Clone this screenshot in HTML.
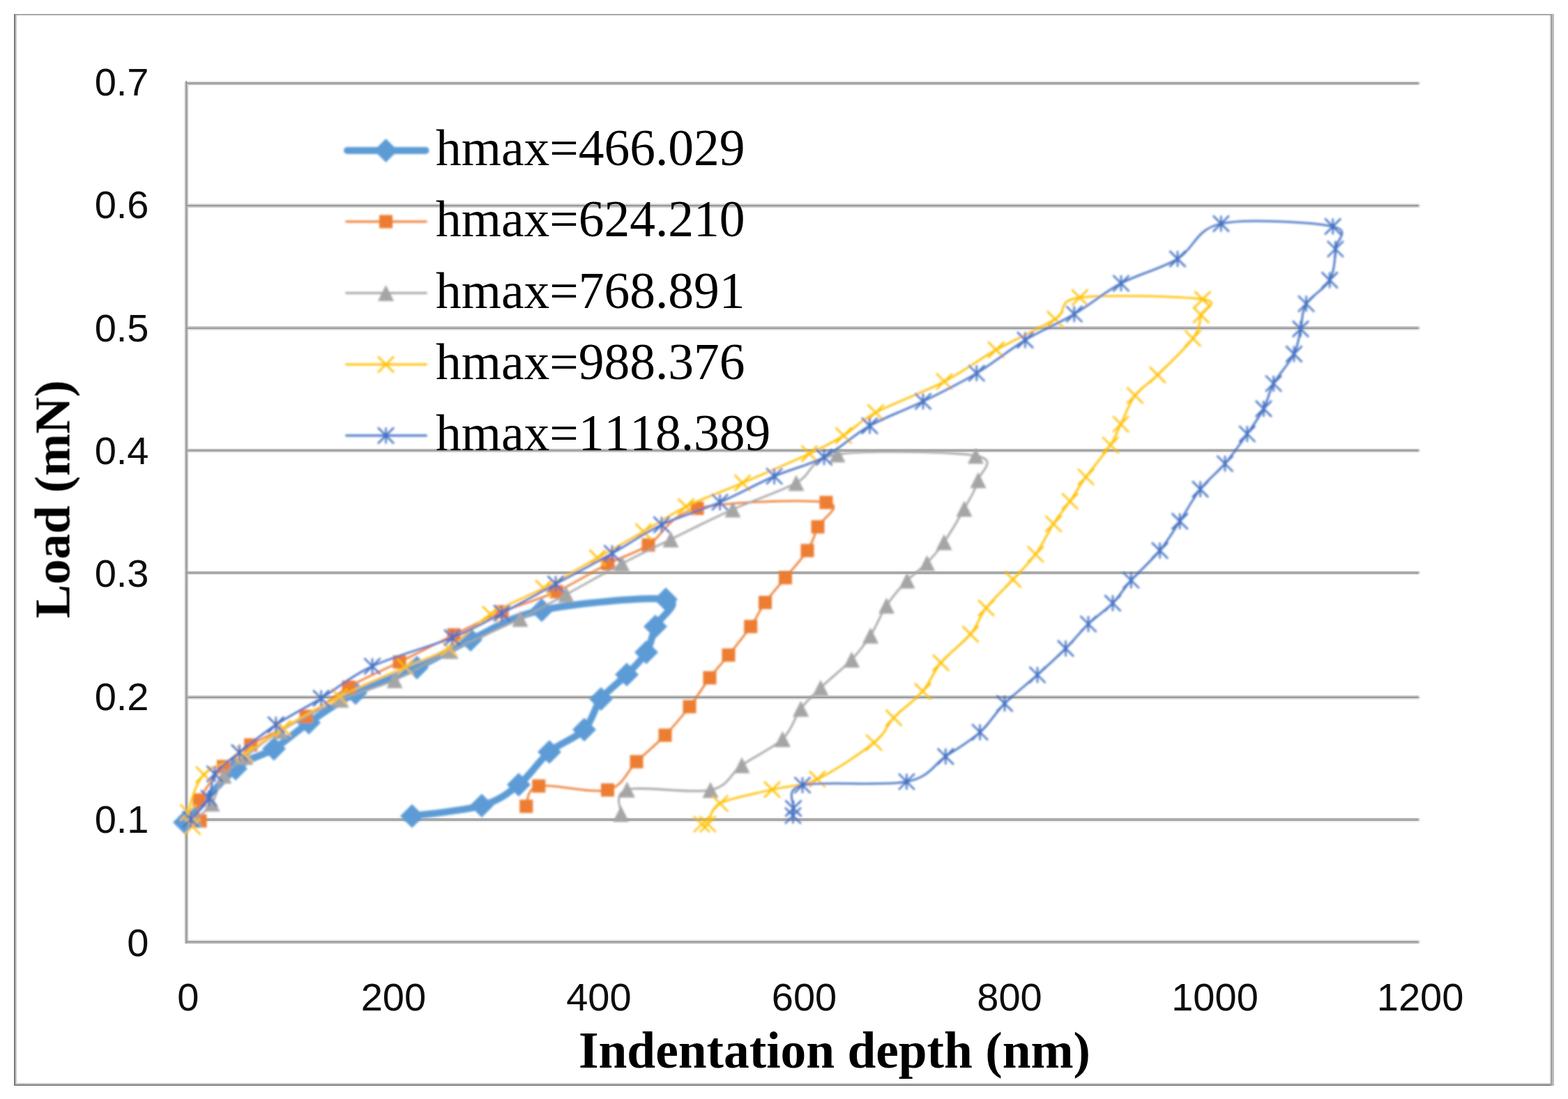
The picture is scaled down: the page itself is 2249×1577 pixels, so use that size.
<!DOCTYPE html>
<html lang="en">
<head>
<meta charset="utf-8">
<title>Load vs indentation depth</title>
<style>
html,body{margin:0;padding:0;background:#fff;}
body{width:2249px;height:1577px;overflow:hidden;}
svg{display:block;}
.tick{font-family:"Liberation Sans",sans-serif;font-size:56px;fill:#0a0a0a;}
.leg{font-family:"Liberation Serif",serif;font-size:73.5px;fill:#000;font-kerning:none;}
.ttl{font-family:"Liberation Serif",serif;font-size:73.4px;font-weight:bold;fill:#000;font-kerning:none;}
.ttly{font-size:72.8px;}
</style>
</head>
<body>
<svg width="2249" height="1577" viewBox="0 0 2249 1577">
<rect x="0" y="0" width="2249" height="1577" fill="#ffffff"/>
<g shape-rendering="crispEdges">
<rect x="20" y="20" width="2208" height="2" fill="#a8a8a8"/>
<rect x="20" y="1554" width="2208" height="2" fill="#cecece"/>
<rect x="20" y="1556" width="2208" height="2" fill="#7e7e7e"/>
<rect x="20" y="20" width="2" height="1538" fill="#7a7a7a"/>
<rect x="22" y="22" width="2" height="1532" fill="#c8c8c8"/>
<rect x="2222" y="22" width="2" height="1532" fill="#f0f0f0"/>
<rect x="2224" y="20" width="2" height="1538" fill="#a0a0a0"/>
<rect x="2226" y="20" width="3" height="1538" fill="#bbbbbb"/>
</g>
<defs>
<filter id="soft" filterUnits="userSpaceOnUse" x="0" y="0" width="2249" height="1577"><feGaussianBlur stdDeviation="1.6"/></filter>
<filter id="softt" filterUnits="userSpaceOnUse" x="0" y="0" width="2249" height="1577"><feGaussianBlur stdDeviation="0.7"/></filter>
<g id="m0"><path d="M0 -17 L17 0 L0 17 L-17 0Z" fill="#5b9bd5"/></g>
<g id="m1"><rect x="-9.5" y="-9.5" width="19" height="19" fill="#ed7d31"/></g>
<g id="m2"><path d="M0 -11.5 L11.5 11.5 L-11.5 11.5Z" fill="#a5a5a5"/></g>
<g id="m3"><path d="M-11.5 -11.5 L11.5 11.5 M-11.5 11.5 L11.5 -11.5" stroke="#ffc000" stroke-width="2.5" fill="none"/></g>
<g id="m4"><path d="M-11.5 -11.5 L11.5 11.5 M-11.5 11.5 L11.5 -11.5 M0 -11.5 L0 11.5" stroke="#4472c4" stroke-width="2.5" fill="none"/></g>
</defs>
<g shape-rendering="crispEdges">
<rect x="266" y="116" width="1768" height="2" fill="#eaeaea"/><rect x="2034" y="116" width="2" height="2" fill="#f2f2f2"/><rect x="2036" y="116" width="2" height="2" fill="#fbfbfb"/>
<rect x="266" y="118" width="1768" height="2" fill="#9a9a9a"/><rect x="2034" y="118" width="2" height="2" fill="#c2c2c2"/><rect x="2036" y="118" width="2" height="2" fill="#efefef"/>
<rect x="266" y="120" width="1768" height="2" fill="#bbbbbb"/><rect x="2034" y="120" width="2" height="2" fill="#d6d6d6"/><rect x="2036" y="120" width="2" height="2" fill="#f4f4f4"/>
<rect x="266" y="292" width="1768" height="2" fill="#dadada"/><rect x="2034" y="292" width="2" height="2" fill="#e8e8e8"/><rect x="2036" y="292" width="2" height="2" fill="#f9f9f9"/>
<rect x="266" y="294" width="1768" height="2" fill="#969696"/><rect x="2034" y="294" width="2" height="2" fill="#c0c0c0"/><rect x="2036" y="294" width="2" height="2" fill="#efefef"/>
<rect x="266" y="296" width="1768" height="2" fill="#cccccc"/><rect x="2034" y="296" width="2" height="2" fill="#e0e0e0"/><rect x="2036" y="296" width="2" height="2" fill="#f7f7f7"/>
<rect x="266" y="468" width="1768" height="2" fill="#c9c9c9"/><rect x="2034" y="468" width="2" height="2" fill="#dedede"/><rect x="2036" y="468" width="2" height="2" fill="#f6f6f6"/>
<rect x="266" y="470" width="1768" height="2" fill="#9a9a9a"/><rect x="2034" y="470" width="2" height="2" fill="#c2c2c2"/><rect x="2036" y="470" width="2" height="2" fill="#efefef"/>
<rect x="266" y="472" width="1768" height="2" fill="#dddddd"/><rect x="2034" y="472" width="2" height="2" fill="#eaeaea"/><rect x="2036" y="472" width="2" height="2" fill="#f9f9f9"/>
<rect x="266" y="644" width="1768" height="2" fill="#b8b8b8"/><rect x="2034" y="644" width="2" height="2" fill="#d4d4d4"/><rect x="2036" y="644" width="2" height="2" fill="#f4f4f4"/>
<rect x="266" y="646" width="1768" height="2" fill="#a0a0a0"/><rect x="2034" y="646" width="2" height="2" fill="#c6c6c6"/><rect x="2036" y="646" width="2" height="2" fill="#f0f0f0"/>
<rect x="266" y="648" width="1768" height="2" fill="#eaeaea"/><rect x="2034" y="648" width="2" height="2" fill="#f2f2f2"/><rect x="2036" y="648" width="2" height="2" fill="#fbfbfb"/>
<rect x="266" y="818" width="1768" height="2" fill="#f6f6f6"/><rect x="2034" y="818" width="2" height="2" fill="#f9f9f9"/><rect x="2036" y="818" width="2" height="2" fill="#fdfdfd"/>
<rect x="266" y="820" width="1768" height="2" fill="#a6a6a6"/><rect x="2034" y="820" width="2" height="2" fill="#c9c9c9"/><rect x="2036" y="820" width="2" height="2" fill="#f1f1f1"/>
<rect x="266" y="822" width="1768" height="2" fill="#acacac"/><rect x="2034" y="822" width="2" height="2" fill="#cdcdcd"/><rect x="2036" y="822" width="2" height="2" fill="#f2f2f2"/>
<rect x="266" y="824" width="1768" height="2" fill="#fafafa"/><rect x="2034" y="824" width="2" height="2" fill="#fcfcfc"/><rect x="2036" y="824" width="2" height="2" fill="#fefefe"/>
<rect x="266" y="998" width="1768" height="2" fill="#bfbfbf"/><rect x="2034" y="998" width="2" height="2" fill="#d8d8d8"/><rect x="2036" y="998" width="2" height="2" fill="#f5f5f5"/>
<rect x="266" y="1000" width="1768" height="2" fill="#9c9c9c"/><rect x="2034" y="1000" width="2" height="2" fill="#c3c3c3"/><rect x="2036" y="1000" width="2" height="2" fill="#f0f0f0"/>
<rect x="266" y="1002" width="1768" height="2" fill="#e5e5e5"/><rect x="2034" y="1002" width="2" height="2" fill="#efefef"/><rect x="2036" y="1002" width="2" height="2" fill="#fbfbfb"/>
<rect x="266" y="1172" width="1768" height="2" fill="#fafafa"/><rect x="2034" y="1172" width="2" height="2" fill="#fcfcfc"/><rect x="2036" y="1172" width="2" height="2" fill="#fefefe"/>
<rect x="266" y="1174" width="1768" height="2" fill="#aeaeae"/><rect x="2034" y="1174" width="2" height="2" fill="#cecece"/><rect x="2036" y="1174" width="2" height="2" fill="#f2f2f2"/>
<rect x="266" y="1176" width="1768" height="2" fill="#a5a5a5"/><rect x="2034" y="1176" width="2" height="2" fill="#c9c9c9"/><rect x="2036" y="1176" width="2" height="2" fill="#f1f1f1"/>
<rect x="266" y="1178" width="1768" height="2" fill="#f0f0f0"/><rect x="2034" y="1178" width="2" height="2" fill="#f6f6f6"/><rect x="2036" y="1178" width="2" height="2" fill="#fcfcfc"/>
<rect x="266" y="1348" width="1768" height="2" fill="#eeeeee"/><rect x="2034" y="1348" width="2" height="2" fill="#f4f4f4"/><rect x="2036" y="1348" width="2" height="2" fill="#fcfcfc"/>
<rect x="266" y="1350" width="1768" height="2" fill="#a0a0a0"/><rect x="2034" y="1350" width="2" height="2" fill="#c6c6c6"/><rect x="2036" y="1350" width="2" height="2" fill="#f0f0f0"/>
<rect x="266" y="1352" width="1768" height="2" fill="#b4b4b4"/><rect x="2034" y="1352" width="2" height="2" fill="#d2d2d2"/><rect x="2036" y="1352" width="2" height="2" fill="#f3f3f3"/>
<rect x="264" y="118" width="2" height="1236" fill="#e2e2e2"/>
<rect x="266" y="116" width="2" height="1238" fill="#999999"/>
<rect x="268" y="118" width="2" height="1234" fill="#c2c2c2" style="mix-blend-mode:darken"/>
</g>
<g filter="url(#softt)">
<g class="tick" text-anchor="end">
<text x="213.5" y="136.7">0.7</text>
<text x="213.5" y="313.1">0.6</text>
<text x="213.5" y="489.5">0.5</text>
<text x="213.5" y="665.9">0.4</text>
<text x="213.5" y="842.3">0.3</text>
<text x="213.5" y="1018.7">0.2</text>
<text x="213.5" y="1195.1">0.1</text>
<text x="213.5" y="1371.5">0</text>
</g>
<g class="tick" text-anchor="middle">
<text x="269.8" y="1449.6">0</text>
<text x="564.4" y="1449.6">200</text>
<text x="858.9" y="1449.6">400</text>
<text x="1153.5" y="1449.6">600</text>
<text x="1448" y="1449.6">800</text>
<text x="1742.5" y="1449.6">1000</text>
<text x="2037.1" y="1449.6">1200</text>
</g>
<text class="ttl" x="1197" y="1532" text-anchor="middle">Indentation depth (nm)</text>
<text class="ttl ttly" transform="translate(99.5 716.5) rotate(-90)" text-anchor="middle">Load (mN)</text>
</g>
<g filter="url(#soft)">
<g>
<path d="M265 1180C277.2 1167.2 316.7 1120.6 338 1103C359.3 1085.4 375.5 1085.5 393 1074.5C410.5 1063.5 423.5 1050.3 443 1037C462.5 1023.7 484.2 1007.7 510 994.5C535.8 981.3 570.5 970.8 598 958C625.5 945.2 645.2 931.8 675 918C704.8 904.2 730.3 885.2 777 875.5C823.7 865.8 927.8 856.1 955 860C982.2 863.9 944.7 886.3 940 899C935.3 911.7 933.8 924.5 927 936C920.2 947.5 909.8 956.8 899 968C888.2 979.2 872.2 989.8 862 1003C851.8 1016.2 850.3 1034.3 838 1047C825.7 1059.7 803.7 1065.8 788 1079C772.3 1092.2 760.2 1113.2 744 1126C727.8 1138.8 716.5 1148.5 691 1156C665.5 1163.5 607.7 1168.5 591 1171" fill="none" stroke="#5b9bd5" stroke-width="10" stroke-linejoin="round" stroke-linecap="round"/>
<use href="#m0" x="265" y="1180"/><use href="#m0" x="338" y="1103"/><use href="#m0" x="393" y="1074.5"/><use href="#m0" x="443" y="1037"/><use href="#m0" x="510" y="994.5"/><use href="#m0" x="598" y="958"/><use href="#m0" x="675" y="918"/><use href="#m0" x="777" y="875.5"/><use href="#m0" x="955" y="860"/><use href="#m0" x="940" y="899"/><use href="#m0" x="927" y="936"/><use href="#m0" x="899" y="968"/><use href="#m0" x="862" y="1003"/><use href="#m0" x="838" y="1047"/><use href="#m0" x="788" y="1079"/><use href="#m0" x="744" y="1126"/><use href="#m0" x="691" y="1156"/><use href="#m0" x="591" y="1171"/>
</g>
<g>
<path d="M287 1178C286.8 1173 280.4 1161 286 1148C291.6 1135 308.2 1113.2 320.5 1100C332.8 1086.8 339.9 1081 359.6 1069C379.4 1057 415.6 1041.8 439 1028C462.4 1014.2 477.7 999 500 986C522.3 973 547.8 962.5 573 950C598.2 937.5 626.5 923 651 911C675.5 899 695.5 888.3 720 878C744.5 867.7 772.7 860.5 798 849C823.3 837.5 850 820.2 872 809C894 797.8 908.7 795.2 930 782C951.3 768.8 957.5 739.7 1000 729.5C1042.5 719.3 1156.2 716.6 1185 721C1213.8 725.4 1177.5 744.5 1173 756C1168.5 767.5 1165.8 777.8 1158 790C1150.2 802.2 1136.6 816.6 1126.5 829C1116.4 841.4 1105.8 852.8 1097.5 864.5C1089.2 876.2 1085.5 886.4 1076.7 899C1068 911.6 1054.8 927.7 1045 940C1035.2 952.3 1027.3 960.3 1018 972.6C1008.7 984.9 999.7 1000.3 989 1014C978.3 1027.7 966.7 1041.8 954 1055C941.3 1068.2 926.8 1079.9 913 1093C899.2 1106.1 894.9 1127.8 871.5 1133.6C848.1 1139.4 792.2 1124 772.8 1127.9C753.3 1131.8 757.8 1152.2 754.8 1157" fill="none" stroke="#ed7d31" stroke-width="2.8" stroke-linejoin="round" stroke-linecap="round"/>
<use href="#m1" x="287" y="1178"/><use href="#m1" x="286" y="1148"/><use href="#m1" x="320.5" y="1100"/><use href="#m1" x="359.6" y="1069"/><use href="#m1" x="439" y="1028"/><use href="#m1" x="500" y="986"/><use href="#m1" x="573" y="950"/><use href="#m1" x="651" y="911"/><use href="#m1" x="720" y="878"/><use href="#m1" x="798" y="849"/><use href="#m1" x="872" y="809"/><use href="#m1" x="930" y="782"/><use href="#m1" x="1000" y="729.5"/><use href="#m1" x="1185" y="721"/><use href="#m1" x="1173" y="756"/><use href="#m1" x="1158" y="790"/><use href="#m1" x="1126.5" y="829"/><use href="#m1" x="1097.5" y="864.5"/><use href="#m1" x="1076.7" y="899"/><use href="#m1" x="1045" y="940"/><use href="#m1" x="1018" y="972.6"/><use href="#m1" x="989" y="1014"/><use href="#m1" x="954" y="1055"/><use href="#m1" x="913" y="1093"/><use href="#m1" x="871.5" y="1133.6"/><use href="#m1" x="772.8" y="1127.9"/><use href="#m1" x="754.8" y="1157"/>
</g>
<g>
<path d="M280 1176C284 1172.2 297.2 1163.5 304 1153C310.8 1142.5 313 1124.2 321 1113C329 1101.8 338.5 1096.7 352 1086C365.5 1075.3 379.2 1062.7 402 1049C424.8 1035.3 461.7 1016.2 489 1004C516.3 991.8 539.8 987.7 566 976C592.2 964.3 616 948.7 646 934C676 919.3 718.3 901.5 746 888C773.7 874.5 787.7 866.2 812 853C836.3 839.8 867 822.2 892 809C917 795.8 935.5 787 962 774C988.5 761 1021 744.5 1051 731C1081 717.5 1117 706.2 1142 693C1167 679.8 1158.1 658.5 1201 652C1243.9 645.5 1365.8 647.8 1399.5 654C1433.2 660.2 1405.8 676.3 1403 689C1400.2 701.7 1391.2 715.2 1383 730C1374.8 744.8 1362.9 765 1354 778C1345.1 791 1338.4 798.8 1329.6 808C1320.8 817.2 1310.7 822.8 1301 833C1291.3 843.2 1280.2 855.8 1271.5 869C1262.8 882.2 1256.8 899.1 1248.5 912C1240.2 924.9 1233.4 934 1221.5 946.5C1209.6 959 1189.2 975.2 1177 987C1164.8 998.8 1157.7 1004.7 1148.6 1017C1139.5 1029.3 1136.5 1047.1 1122.4 1060.6C1108.3 1074.1 1081.2 1085.8 1064 1098C1046.8 1110.2 1046.4 1127.8 1019 1133.6C991.6 1139.4 920.8 1127.3 899.4 1133C878 1138.7 892.2 1162 890.7 1167.8" fill="none" stroke="#a5a5a5" stroke-width="2.8" stroke-linejoin="round" stroke-linecap="round"/>
<use href="#m2" x="280" y="1176"/><use href="#m2" x="304" y="1153"/><use href="#m2" x="321" y="1113"/><use href="#m2" x="352" y="1086"/><use href="#m2" x="402" y="1049"/><use href="#m2" x="489" y="1004"/><use href="#m2" x="566" y="976"/><use href="#m2" x="646" y="934"/><use href="#m2" x="746" y="888"/><use href="#m2" x="812" y="853"/><use href="#m2" x="892" y="809"/><use href="#m2" x="962" y="774"/><use href="#m2" x="1051" y="731"/><use href="#m2" x="1142" y="693"/><use href="#m2" x="1201" y="652"/><use href="#m2" x="1399.5" y="654"/><use href="#m2" x="1403" y="689"/><use href="#m2" x="1383" y="730"/><use href="#m2" x="1354" y="778"/><use href="#m2" x="1329.6" y="808"/><use href="#m2" x="1301" y="833"/><use href="#m2" x="1271.5" y="869"/><use href="#m2" x="1248.5" y="912"/><use href="#m2" x="1221.5" y="946.5"/><use href="#m2" x="1177" y="987"/><use href="#m2" x="1148.6" y="1017"/><use href="#m2" x="1122.4" y="1060.6"/><use href="#m2" x="1064" y="1098"/><use href="#m2" x="1019" y="1133.6"/><use href="#m2" x="899.4" y="1133"/><use href="#m2" x="890.7" y="1167.8"/>
</g>
<g>
<path d="M276 1186C275 1182.7 267.2 1178.4 270 1166C272.8 1153.6 279 1125.5 292.5 1111.5C306 1097.5 332.1 1093.1 351 1082C369.9 1070.9 383.4 1058.7 406 1045C428.6 1031.3 457.5 1014.3 486.7 999.7C515.9 985.1 555.2 968.9 581.4 957.3C607.6 945.7 623.3 942.6 643.7 930C664.1 917.4 681 895.8 703.6 881.5C726.2 867.2 754 857.5 779.6 844C805.2 830.5 833.1 814 857 800.5C880.9 787 901.8 775.2 923 763C944.2 750.8 960.3 738.7 984 727C1007.7 715.3 1035.5 705.7 1065 693C1094.5 680.3 1136.8 662.3 1161 651C1185.2 639.7 1194.2 634.8 1210 625C1225.8 615.2 1231.9 604.9 1256 592C1280.1 579.1 1325.7 562.4 1354.5 547.4C1383.3 532.4 1402.2 516.9 1428.7 502C1455.2 487.1 1493.4 470.5 1513.4 458C1533.4 445.5 1513.5 431.8 1548.8 427C1584.1 422.2 1696 425.3 1725 429.5C1754 433.7 1725 442.6 1722.7 452C1720.4 461.4 1721.4 471.3 1711 485.6C1700.6 499.9 1674.2 524.4 1660.4 538C1646.6 551.6 1636.8 555.7 1628 567.5C1619.2 579.3 1613.5 596.9 1607.6 608.7C1601.7 620.6 1601.1 626 1592.8 638.6C1584.5 651.2 1567.3 671 1557.6 684.4C1547.9 697.8 1542.5 708.1 1534.7 719.3C1526.9 730.5 1519.2 739 1511 751.7C1502.8 764.4 1495.1 782 1485.4 795.3C1475.7 808.6 1464.8 818.6 1453 831.5C1441.2 844.4 1424.7 859.4 1414.5 872.5C1404.3 885.6 1402.8 896.9 1392 910C1381.2 923.1 1360.9 937.3 1349.5 951C1338.1 964.7 1334.7 978.8 1323.4 992C1312.2 1005.2 1293.6 1017.7 1282 1030C1270.4 1042.3 1271.9 1050.9 1253.6 1065.6C1235.3 1080.3 1196.6 1106.8 1172.3 1118C1148 1129.2 1130.8 1127.2 1107.5 1133C1084.2 1138.8 1048.1 1144.5 1032.7 1152.8C1017.3 1161.1 1019.7 1177.7 1015.3 1182.7C1010.9 1187.7 1008 1182.7 1006.5 1182.7" fill="none" stroke="#ffc000" stroke-width="2.8" stroke-linejoin="round" stroke-linecap="round"/>
<use href="#m3" x="276" y="1186"/><use href="#m3" x="270" y="1166"/><use href="#m3" x="292.5" y="1111.5"/><use href="#m3" x="351" y="1082"/><use href="#m3" x="406" y="1045"/><use href="#m3" x="486.7" y="999.7"/><use href="#m3" x="581.4" y="957.3"/><use href="#m3" x="643.7" y="930"/><use href="#m3" x="703.6" y="881.5"/><use href="#m3" x="779.6" y="844"/><use href="#m3" x="857" y="800.5"/><use href="#m3" x="923" y="763"/><use href="#m3" x="984" y="727"/><use href="#m3" x="1065" y="693"/><use href="#m3" x="1161" y="651"/><use href="#m3" x="1210" y="625"/><use href="#m3" x="1256" y="592"/><use href="#m3" x="1354.5" y="547.4"/><use href="#m3" x="1428.7" y="502"/><use href="#m3" x="1513.4" y="458"/><use href="#m3" x="1548.8" y="427"/><use href="#m3" x="1725" y="429.5"/><use href="#m3" x="1722.7" y="452"/><use href="#m3" x="1711" y="485.6"/><use href="#m3" x="1660.4" y="538"/><use href="#m3" x="1628" y="567.5"/><use href="#m3" x="1607.6" y="608.7"/><use href="#m3" x="1592.8" y="638.6"/><use href="#m3" x="1557.6" y="684.4"/><use href="#m3" x="1534.7" y="719.3"/><use href="#m3" x="1511" y="751.7"/><use href="#m3" x="1485.4" y="795.3"/><use href="#m3" x="1453" y="831.5"/><use href="#m3" x="1414.5" y="872.5"/><use href="#m3" x="1392" y="910"/><use href="#m3" x="1349.5" y="951"/><use href="#m3" x="1323.4" y="992"/><use href="#m3" x="1282" y="1030"/><use href="#m3" x="1253.6" y="1065.6"/><use href="#m3" x="1172.3" y="1118"/><use href="#m3" x="1107.5" y="1133"/><use href="#m3" x="1032.7" y="1152.8"/><use href="#m3" x="1015.3" y="1182.7"/><use href="#m3" x="1006.5" y="1182.7"/>
</g>
<g>
<path d="M273.6 1175.7C278 1170.7 294.1 1156.4 299.8 1145.5C305.5 1134.6 300.7 1121.4 308 1110.5C315.3 1099.6 328.8 1091.8 343.4 1080C358 1068.2 376.3 1053 395.8 1040C415.3 1027 437.6 1016 460.6 1002C483.6 988 502.6 970.5 534 956C565.4 941.5 617.7 927.7 648.7 915C679.7 902.3 695.1 892.8 719.8 880C744.5 867.2 770.6 852.3 797 838C823.4 823.7 852.7 808.2 878 794C903.3 779.8 923.2 765.2 949 753C974.8 740.8 1005.7 732.3 1032.6 720.7C1059.5 709.1 1085.7 694.2 1110.6 683.4C1135.5 672.6 1159.2 668.1 1182 656C1204.8 643.9 1223.7 624.3 1247.4 611C1271.1 597.7 1298.4 588.6 1324 576C1349.6 563.4 1376.4 550.3 1400.8 535.6C1425.2 520.9 1447.2 502.1 1470.5 488C1493.8 473.9 1517.9 464.3 1540.8 450.7C1563.7 437.1 1583.3 419.8 1608 406.6C1632.7 393.4 1665.1 385.8 1689 371.5C1712.9 357.2 1714.3 328.8 1751.4 321C1788.5 313.2 1884.4 318.9 1911.7 325C1939 331.1 1916.2 344.5 1915.4 357.3C1914.7 370.1 1914.2 388.9 1907.2 402C1900.2 415.1 1880.5 424.1 1873.5 435.8C1866.5 447.5 1868.4 460 1865.5 472C1862.6 484 1862.5 494.9 1856 508C1849.5 521.1 1834 537.3 1826.7 550.4C1819.5 563.5 1818.8 574.5 1812.5 586.5C1806.2 598.5 1798 609.6 1788.8 622.7C1779.5 635.8 1768.2 652.1 1757 665.3C1745.8 678.5 1732.4 688.2 1721.6 702C1710.8 715.8 1701.9 733.3 1692.2 748C1682.5 762.7 1675.2 775.9 1663.6 790C1652 804.1 1633.7 820.1 1622.4 832.7C1611.1 845.3 1606.2 855 1596 865.5C1585.8 876 1572.2 884.6 1561 895.4C1549.8 906.2 1540.7 918.3 1528.5 930.5C1516.3 942.7 1502.6 955.2 1488 968.4C1473.4 981.6 1454.7 995.8 1441 1009.5C1427.3 1023.2 1419.7 1038 1405.6 1050.7C1391.5 1063.4 1373.8 1073.7 1356.3 1085.5C1338.8 1097.3 1334.6 1114.8 1300.4 1121.7C1266.2 1128.6 1178.1 1120.3 1151 1126.7C1123.9 1133.1 1140.3 1152.7 1138 1160C1135.7 1167.3 1137.5 1168.6 1137.4 1170.3" fill="none" stroke="#4472c4" stroke-width="2.8" stroke-linejoin="round" stroke-linecap="round"/>
<use href="#m4" x="273.6" y="1175.7"/><use href="#m4" x="299.8" y="1145.5"/><use href="#m4" x="308" y="1110.5"/><use href="#m4" x="343.4" y="1080"/><use href="#m4" x="395.8" y="1040"/><use href="#m4" x="460.6" y="1002"/><use href="#m4" x="534" y="956"/><use href="#m4" x="648.7" y="915"/><use href="#m4" x="719.8" y="880"/><use href="#m4" x="797" y="838"/><use href="#m4" x="878" y="794"/><use href="#m4" x="949" y="753"/><use href="#m4" x="1032.6" y="720.7"/><use href="#m4" x="1110.6" y="683.4"/><use href="#m4" x="1182" y="656"/><use href="#m4" x="1247.4" y="611"/><use href="#m4" x="1324" y="576"/><use href="#m4" x="1400.8" y="535.6"/><use href="#m4" x="1470.5" y="488"/><use href="#m4" x="1540.8" y="450.7"/><use href="#m4" x="1608" y="406.6"/><use href="#m4" x="1689" y="371.5"/><use href="#m4" x="1751.4" y="321"/><use href="#m4" x="1911.7" y="325"/><use href="#m4" x="1915.4" y="357.3"/><use href="#m4" x="1907.2" y="402"/><use href="#m4" x="1873.5" y="435.8"/><use href="#m4" x="1865.5" y="472"/><use href="#m4" x="1856" y="508"/><use href="#m4" x="1826.7" y="550.4"/><use href="#m4" x="1812.5" y="586.5"/><use href="#m4" x="1788.8" y="622.7"/><use href="#m4" x="1757" y="665.3"/><use href="#m4" x="1721.6" y="702"/><use href="#m4" x="1692.2" y="748"/><use href="#m4" x="1663.6" y="790"/><use href="#m4" x="1622.4" y="832.7"/><use href="#m4" x="1596" y="865.5"/><use href="#m4" x="1561" y="895.4"/><use href="#m4" x="1528.5" y="930.5"/><use href="#m4" x="1488" y="968.4"/><use href="#m4" x="1441" y="1009.5"/><use href="#m4" x="1405.6" y="1050.7"/><use href="#m4" x="1356.3" y="1085.5"/><use href="#m4" x="1300.4" y="1121.7"/><use href="#m4" x="1151" y="1126.7"/><use href="#m4" x="1138" y="1160"/><use href="#m4" x="1137.4" y="1170.3"/>
</g>
</g>
<g filter="url(#soft)">
<line x1="498" y1="216" x2="610.5" y2="216" stroke="#5b9bd5" stroke-width="10" stroke-linecap="round"/><use href="#m0" x="553.5" y="216"/>
<line x1="496.5" y1="318" x2="611.5" y2="318" stroke="#ed7d31" stroke-width="2.8" stroke-linecap="round"/><use href="#m1" x="553.5" y="318"/>
<line x1="496.5" y1="420.5" x2="611.5" y2="420.5" stroke="#a5a5a5" stroke-width="2.8" stroke-linecap="round"/><use href="#m2" x="553.5" y="420.5"/>
<line x1="496.5" y1="523" x2="611.5" y2="523" stroke="#ffc000" stroke-width="2.8" stroke-linecap="round"/><use href="#m3" x="553.5" y="523"/>
<line x1="496.5" y1="625" x2="611.5" y2="625" stroke="#4472c4" stroke-width="2.8" stroke-linecap="round"/><use href="#m4" x="553.5" y="625"/>
</g>
<g filter="url(#softt)">
<text class="leg" x="625" y="237">hmax=466.029</text>
<text class="leg" x="625" y="339">hmax=624.210</text>
<text class="leg" x="625" y="441.5">hmax=768.891</text>
<text class="leg" x="625" y="544">hmax=988.376</text>
<text class="leg" x="625" y="646">hmax=1118.389</text>
</g>
</svg>
</body>
</html>
